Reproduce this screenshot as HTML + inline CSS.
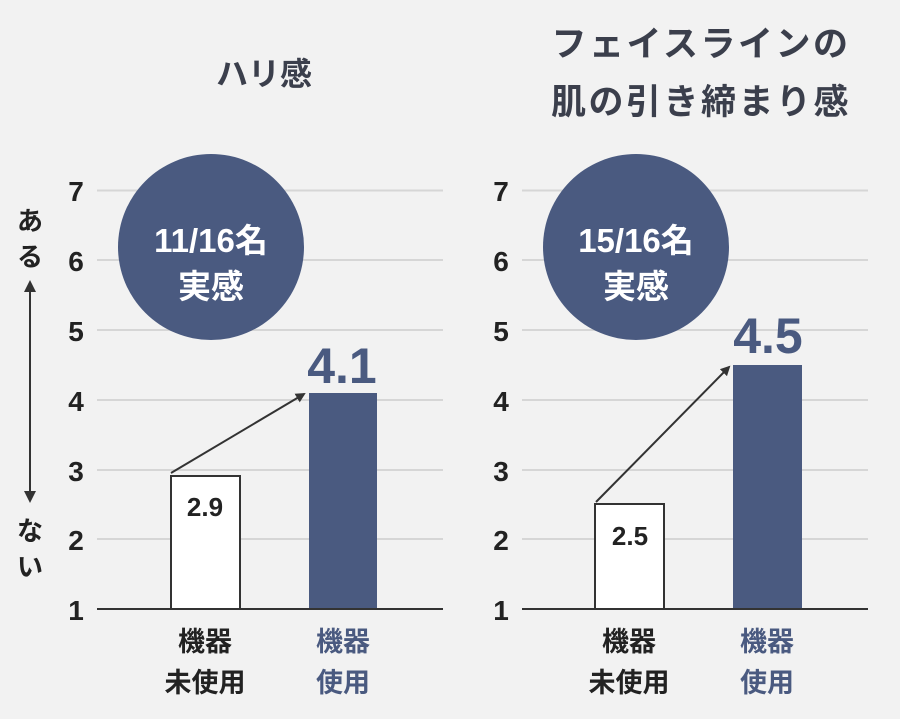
<!DOCTYPE html>
<html><head><meta charset="utf-8"><style>
body{margin:0;background:#f2f2f2;}
svg text{font-family:"Liberation Sans","Noto Sans CJK JP",sans-serif;font-weight:bold;}
</style></head><body>
<svg width="900" height="714" viewBox="0 0 900 714" xmlns="http://www.w3.org/2000/svg">
<defs><marker id="ah" markerWidth="10" markerHeight="10" refX="8" refY="5" orient="auto" markerUnits="userSpaceOnUse"><path d="M0,0 L10,5 L0,10 Z" fill="#333"/></marker>
<marker id="ah2" markerWidth="12" markerHeight="12" refX="6" refY="6" orient="auto-start-reverse" markerUnits="userSpaceOnUse"><path d="M0,0 L12,6 L0,12 Z" fill="#333"/></marker></defs>
<rect width="900" height="714" fill="#f2f2f2"/>
<g font-size="32" fill="#3b3f4c" text-anchor="middle">
<text x="264" y="85">ハリ感</text>
</g>
<g font-size="35" fill="#3b3f4c" text-anchor="middle" letter-spacing="2.5">
<text x="701" y="56">フェイスラインの</text>
<text x="701" y="114">肌の引き締まり感</text>
</g>
<g font-size="26" fill="#222" text-anchor="middle">
<text x="30" y="230">あ</text><text x="30" y="266">る</text>
<text x="30" y="540">な</text><text x="30" y="576">い</text>
</g>
<line x1="30" y1="286" x2="30" y2="497" stroke="#333" stroke-width="2" marker-start="url(#ah2)" marker-end="url(#ah2)"/>
<g stroke="#d6d6d6" stroke-width="2">
<line x1="97" x2="443" y1="190.5" y2="190.5"/><line x1="97" x2="443" y1="260" y2="260"/><line x1="97" x2="443" y1="330" y2="330"/><line x1="97" x2="443" y1="400" y2="400"/><line x1="97" x2="443" y1="470" y2="470"/><line x1="97" x2="443" y1="539" y2="539"/>
<line x1="522" x2="868" y1="190.5" y2="190.5"/><line x1="522" x2="868" y1="260" y2="260"/><line x1="522" x2="868" y1="330" y2="330"/><line x1="522" x2="868" y1="400" y2="400"/><line x1="522" x2="868" y1="470" y2="470"/><line x1="522" x2="868" y1="539" y2="539"/>
</g>
<g font-size="28" fill="#222" text-anchor="middle">
<text x="76" y="201">7</text><text x="76" y="271">6</text><text x="76" y="341">5</text><text x="76" y="411">4</text><text x="76" y="481">3</text><text x="76" y="550">2</text><text x="76" y="620">1</text>
<text x="501" y="201">7</text><text x="501" y="271">6</text><text x="501" y="341">5</text><text x="501" y="411">4</text><text x="501" y="481">3</text><text x="501" y="550">2</text><text x="501" y="620">1</text>
</g>
<rect x="171" y="476" width="69" height="133" fill="#fff" stroke="#333" stroke-width="2"/>
<rect x="309" y="393" width="68" height="216" fill="#4a5a80"/>
<line x1="97" x2="443" y1="609" y2="609" stroke="#333" stroke-width="2"/>
<line x1="171" y1="473" x2="304" y2="394" stroke="#333" stroke-width="2" marker-end="url(#ah)"/>
<text x="205" y="516" font-size="26" fill="#222" text-anchor="middle">2.9</text>
<text x="342" y="383" font-size="50" fill="#4a5a80" text-anchor="middle">4.1</text>
<circle cx="211" cy="247" r="93" fill="#4a5a80"/>
<text x="211" y="252" font-size="33" fill="#fff" text-anchor="middle">11/16名</text>
<text x="211" y="298" font-size="33" fill="#fff" text-anchor="middle">実感</text>
<rect x="595" y="504" width="69" height="105" fill="#fff" stroke="#333" stroke-width="2"/>
<rect x="733" y="365" width="69" height="244" fill="#4a5a80"/>
<line x1="522" x2="868" y1="609" y2="609" stroke="#333" stroke-width="2"/>
<line x1="596" y1="502" x2="729" y2="367" stroke="#333" stroke-width="2" marker-end="url(#ah)"/>
<text x="630" y="545" font-size="26" fill="#222" text-anchor="middle">2.5</text>
<text x="768" y="353" font-size="50" fill="#4a5a80" text-anchor="middle">4.5</text>
<circle cx="636" cy="247" r="93" fill="#4a5a80"/>
<text x="636" y="252" font-size="33" fill="#fff" text-anchor="middle">15/16名</text>
<text x="636" y="298" font-size="33" fill="#fff" text-anchor="middle">実感</text>
<g font-size="27" text-anchor="middle">
<text x="205" y="651" fill="#222">機器</text><text x="205" y="692" fill="#222">未使用</text>
<text x="343" y="651" fill="#4a5a80">機器</text><text x="343" y="692" fill="#4a5a80">使用</text>
<text x="629" y="651" fill="#222">機器</text><text x="629" y="692" fill="#222">未使用</text>
<text x="767" y="651" fill="#4a5a80">機器</text><text x="767" y="692" fill="#4a5a80">使用</text>
</g>
</svg>
</body></html>
